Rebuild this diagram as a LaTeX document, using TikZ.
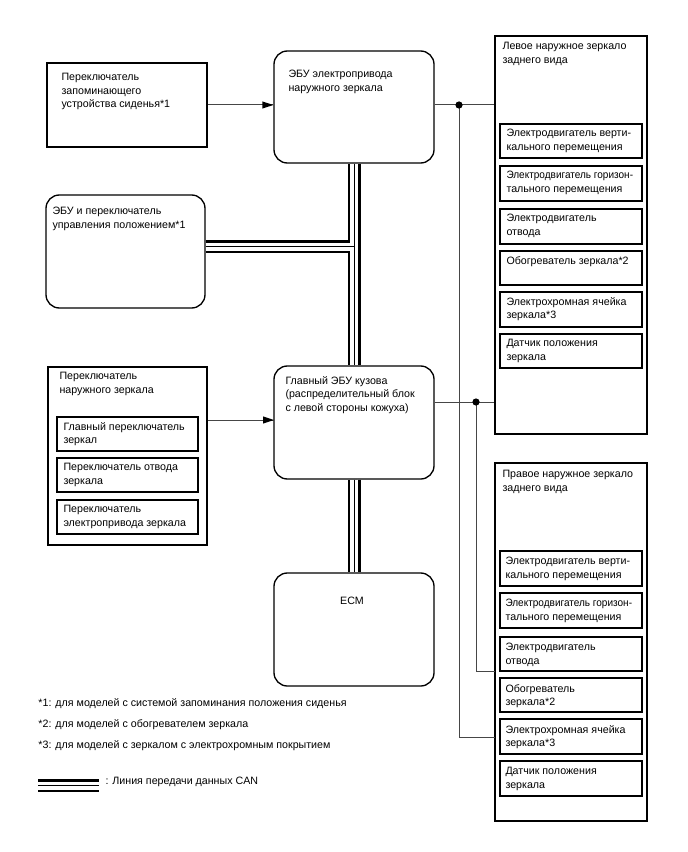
\documentclass[tikz,border=0pt]{standalone}
\usepackage{fontspec}
\setmainfont{Liberation Sans}
\usetikzlibrary{fit}

\tikzset{every picture/.style={line width=0.75pt}}
\tikzset{
  blk/.style={draw, line width=1pt, inner sep=0pt},
  rblk/.style={blk, rounded corners=10pt},
  txt/.style={anchor=north west, inner sep=0pt, align=left, font=\fontsize{8}{10}\selectfont},
  wire/.style={draw={rgb, 255:red, 70; green, 70; blue, 70 }, line width=0.75pt},
}

\begin{document}
\begin{tikzpicture}[x=0.75pt,y=0.75pt,yscale=-1,xscale=1]
\useasboundingbox (0,0) rectangle (688,852);

%Shape: Rectangle [seat switch]
\node [blk, fit={(47,63) (207,147)}] (seat) {};
%Shape: Rounded Rect [mirror ECU]
\node [rblk, fit={(274,51) (434,163)}] (mecu) {};
%Shape: Rounded Rect [position ECU]
\node [rblk, fit={(46,195) (205,308)}] (posecu) {};
%Shape: Rectangle [mirror switch]
\node [blk, fit={(48,367) (207,545)}] (mswitch) {};
\node [blk, fit={(57,417) (198,451)}] (msw1) {};
\node [blk, fit={(57,458) (198,492)}] (msw2) {};
\node [blk, fit={(57,500) (198,534)}] (msw3) {};
%Shape: Rounded Rect [main body ECU]
\node [rblk, fit={(274,366) (434,479)}] (bodyecu) {};
%Shape: Rounded Rect [ECM]
\node [rblk, fit={(274,573) (434,686)}] (ecm) {};
%Shape: Rectangle [left mirror]
\node [blk, fit={(495,36) (647,434)}] (lmirror) {};
\node [blk, fit={(500,124) (642,158)}] (lm1) {};
\node [blk, fit={(500,166) (642,201)}] (lm2) {};
\node [blk, fit={(500,209) (642,244)}] (lm3) {};
\node [blk, fit={(500,251) (642,285)}] (lm4) {};
\node [blk, fit={(500,292) (642,327)}] (lm5) {};
\node [blk, fit={(500,334) (642,368)}] (lm6) {};
%Shape: Rectangle [right mirror]
\node [blk, fit={(495,463) (647,821)}] (rmirror) {};
\node [blk, fit={(500,551) (642,586)}] (rm1) {};
\node [blk, fit={(500,593) (642,628)}] (rm2) {};
\node [blk, fit={(500,637) (642,671)}] (rm3) {};
\node [blk, fit={(500,678) (642,712)}] (rm4) {};
\node [blk, fit={(500,719) (642,754)}] (rm5) {};
\node [blk, fit={(500,761) (642,796)}] (rm6) {};

\coordinate (j1) at (459,105);
\coordinate (j2) at (476,402);
\coordinate (r1) at (495,737);
\coordinate (r2) at (495,671);
\coordinate (swarr) at (274,420);
\coordinate (canj) at (354,246.5);
\coordinate (leg1) at (38,785.5);
\coordinate (leg2) at (99,785.5);

%Straight Lines [seat switch -> mirror ECU]
\draw [wire] (seat.east) -- (seat.east -| mecu.west);
\draw [shift={(seat.east -| mecu.west)}, rotate = 180] [fill={rgb, 255:red, 0; green, 0; blue, 0 }  ][line width=0.08]  [draw opacity=0] (11,-3.6) -- (0,0) -- (11,3.6) -- cycle    ;
%Straight Lines [mirror switch -> body ECU]
\draw [wire] (mswitch.east |- swarr) -- (swarr);
\draw [shift={(swarr)}, rotate = 180] [fill={rgb, 255:red, 0; green, 0; blue, 0 }  ][line width=0.08]  [draw opacity=0] (11,-3.6) -- (0,0) -- (11,3.6) -- cycle    ;
%Straight Lines [to mirrors]
\draw [wire] (j1 -| mecu.east) -- (j1 -| lmirror.west);
\draw [wire] (j2 -| bodyecu.east) -- (j2 -| lmirror.west);
\draw [wire] (j1) |- (r1);
\draw [wire] (j2) |- (r2);
\fill (j1) circle [radius=3.6];
\fill (j2) circle [radius=3.6];

%CAN lines
\foreach \w/\c in {9.75pt/black, 6pt/white, 0.75pt/black} {
  \draw [line width=\w, color=\c] (mecu.south) -- (bodyecu.north) (canj -| posecu.east) -- (canj) (bodyecu.south) -- (ecm.north) (leg1) -- (leg2);
}

% Text Node
\node [txt] (seattxt) at (61,73) {Переключатель\\запоминающего\\устройства сиденья*1};
% Text Node
\node [txt] (mecutxt) at (288,70) {ЭБУ электропривода\\наружного зеркала};
% Text Node
\node [txt] (postxt) at (52,207) {ЭБУ и переключатель\\управления положением*1};
% Text Node
\node [txt] (mswtxt) at (59,372) {Переключатель\\наружного зеркала};
% Text Node
\node [txt] (msw1txt) at (63,422) {Главный переключатель\\зеркал};
% Text Node
\node [txt] (msw2txt) at (63,463) {Переключатель отвода\\зеркала};
% Text Node
\node [txt] (msw3txt) at (63,505) {Переключатель\\электропривода зеркала};
% Text Node
\node [txt] (bodytxt) at (285,376) {Главный ЭБУ кузова\\(распределительный блок\\с левой стороны кожуха)};
% Text Node
\node [font=\fontsize{8}{10}\selectfont, inner sep=0pt] (ecmtxt) at (352,601) {ECM};
% Text Node
\node [txt] (lmtxt) at (502,42) {Левое наружное зеркало\\заднего вида};
% Text Node
\node [txt] (lm1txt) at (506,129) {Электродвигатель верти-\\кального перемещения};
% Text Node
\node [txt] (lm2txt) at (506,171) {\scalebox{0.94}[1]{Электродвигатель горизон-}\\тального перемещения};
% Text Node
\node [txt] (lm3txt) at (506,214) {Электродвигатель\\отвода};
% Text Node
\node [txt] (lm4txt) at (506,256) {Обогреватель зеркала*2};
% Text Node
\node [txt] (lm5txt) at (506,297) {Электрохромная ячейка\\зеркала*3};
% Text Node
\node [txt] (lm6txt) at (506,339) {Датчик положения\\зеркала};
% Text Node
\node [txt] (rmtxt) at (502,470) {Правое наружное зеркало\\заднего вида};
% Text Node
\node [txt] (rm1txt) at (505,557) {Электродвигатель верти-\\кального перемещения};
% Text Node
\node [txt] (rm2txt) at (505,599) {\scalebox{0.94}[1]{Электродвигатель горизон-}\\тального перемещения};
% Text Node
\node [txt] (rm3txt) at (505,643) {Электродвигатель\\отвода};
% Text Node
\node [txt] (rm4txt) at (505,684) {Обогреватель\\зеркала*2};
% Text Node
\node [txt] (rm5txt) at (505,725) {Электрохромная ячейка\\зеркала*3};
% Text Node
\node [txt] (rm6txt) at (505,767) {Датчик положения\\зеркала};
% Text Node
\node [txt] (note1) at (38,698) {*1: для моделей с системой запоминания положения сиденья};
% Text Node
\node [txt] (note2) at (38,719) {*2: для моделей с обогревателем зеркала};
% Text Node
\node [txt] (note3) at (38,740) {*3: для моделей с зеркалом с электрохромным покрытием};
% Text Node
\node [txt] (legtxt) at (105,777) {: Линия передачи данных CAN};

\end{tikzpicture}
\end{document}
